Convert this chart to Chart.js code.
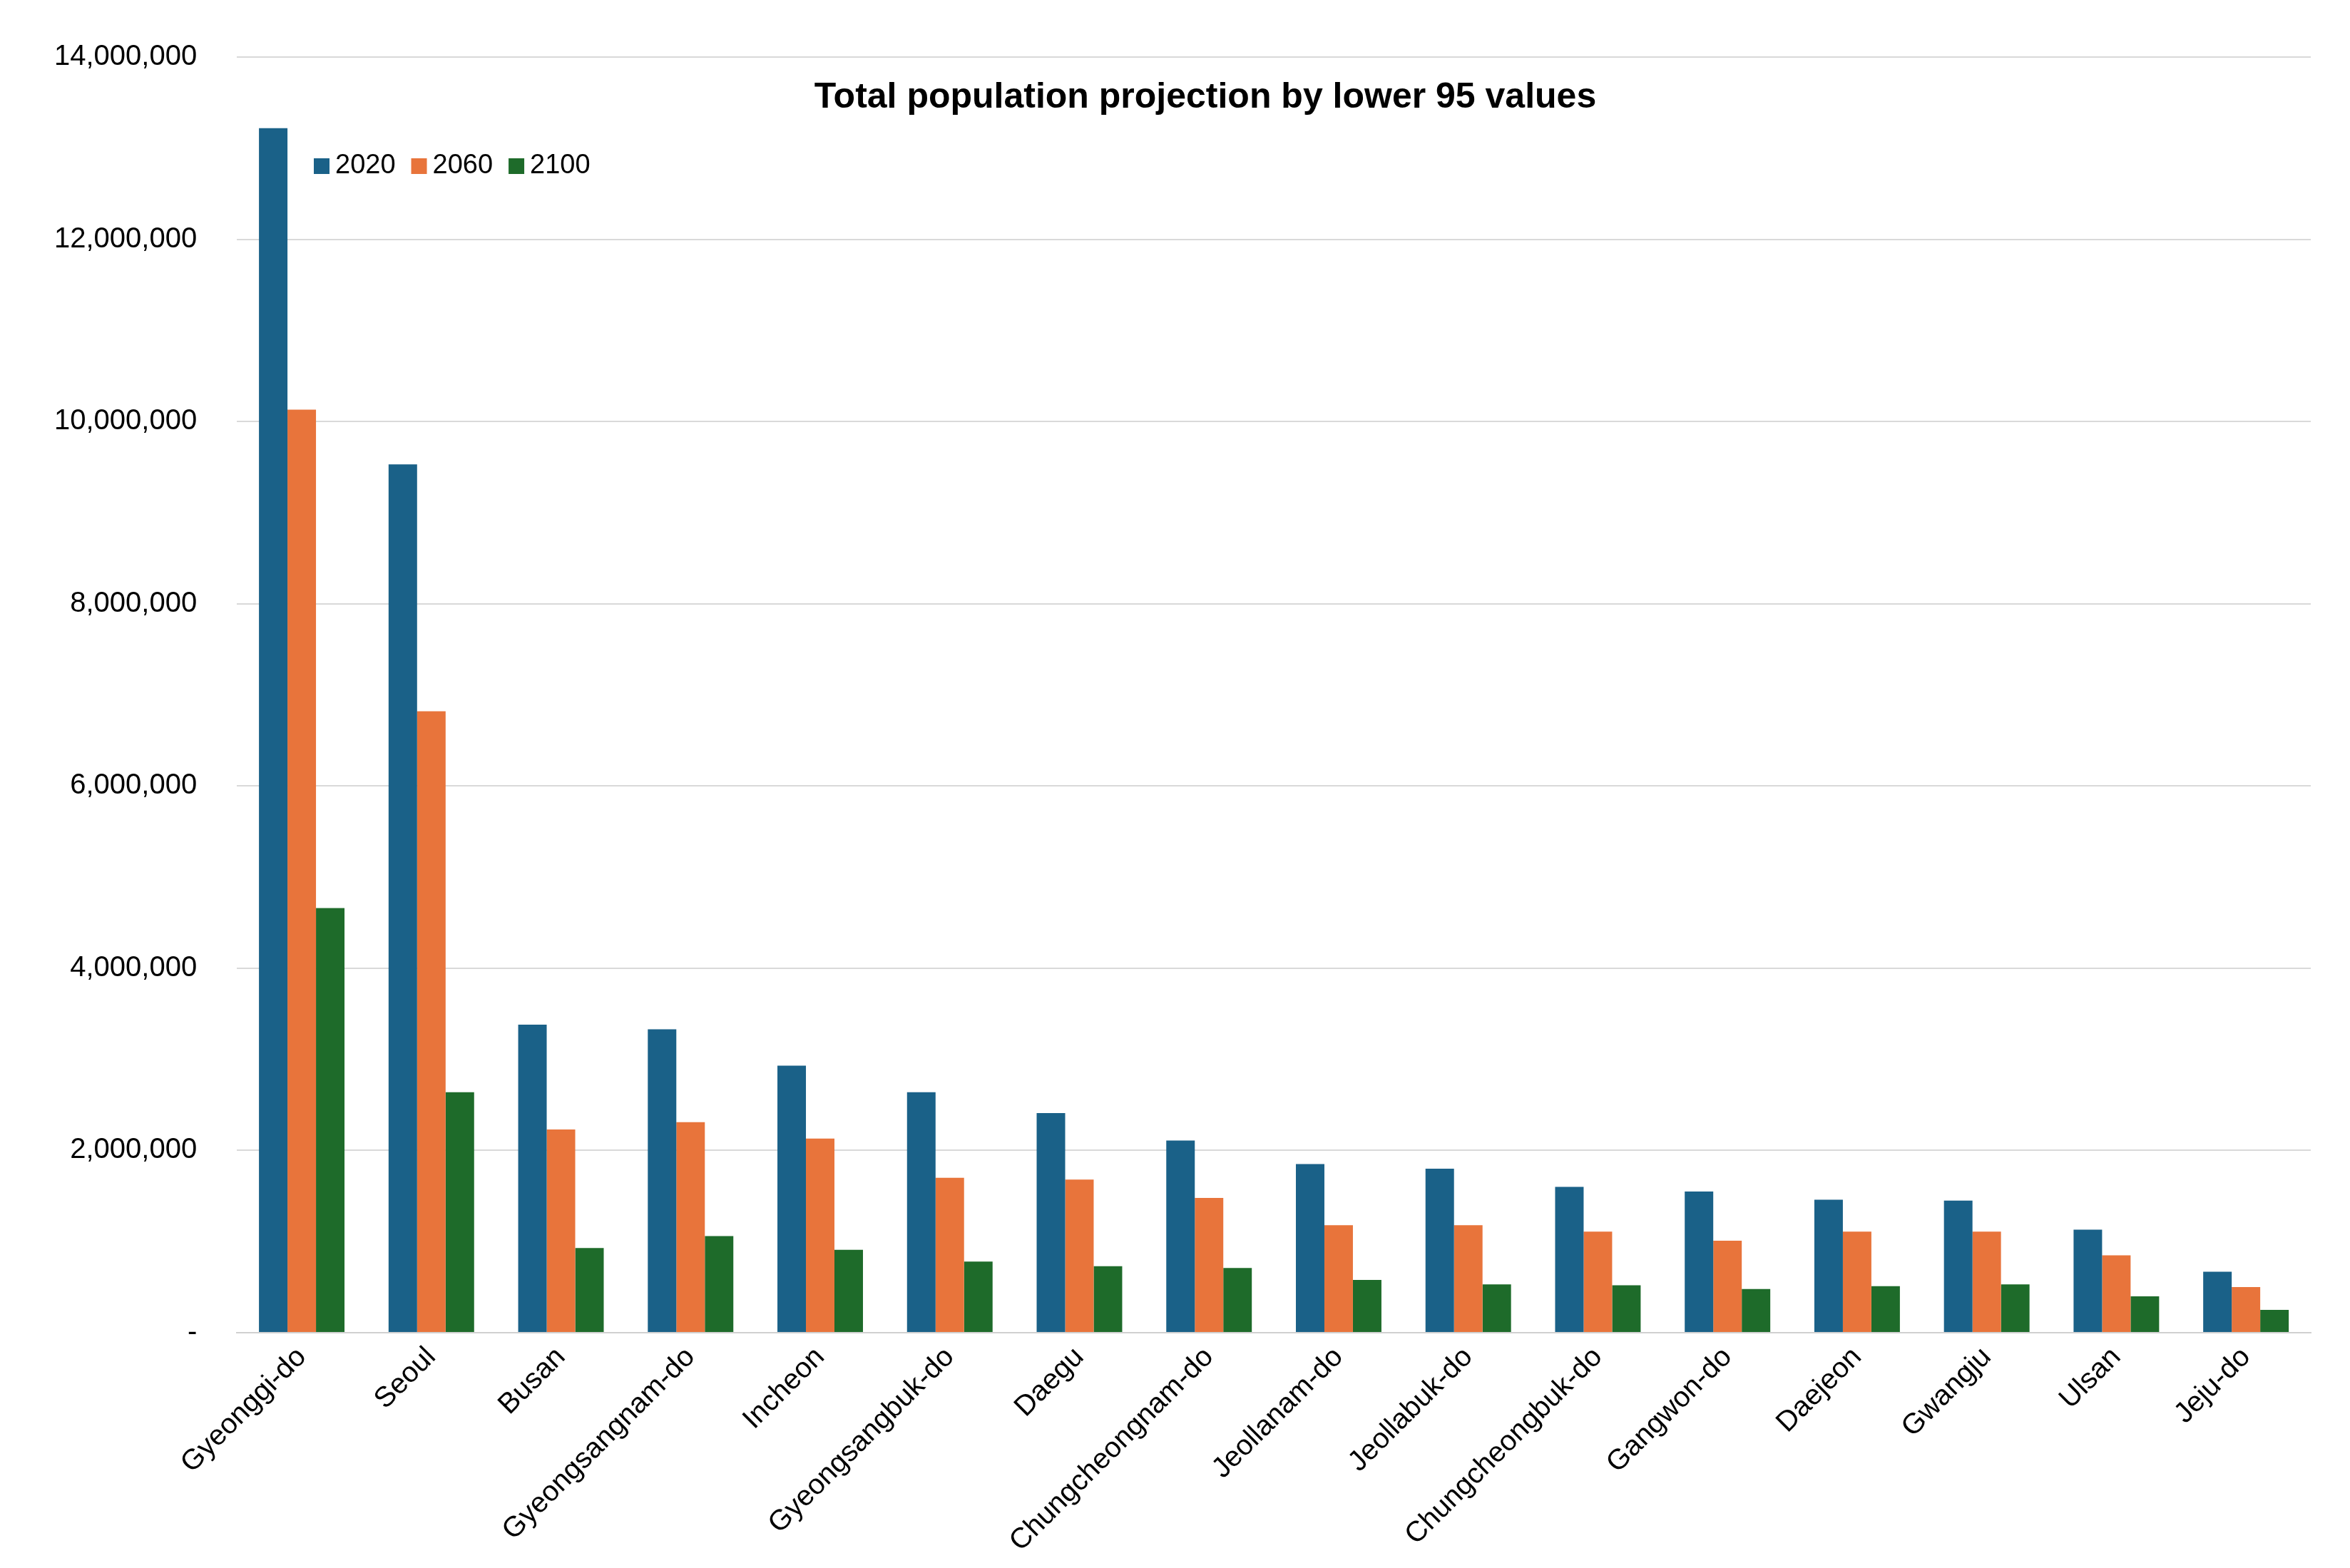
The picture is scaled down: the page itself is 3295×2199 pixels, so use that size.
<!DOCTYPE html>
<html><head><meta charset="utf-8">
<script src="https://cdn.jsdelivr.net/npm/chart.js@4"></script>
<style>html,body{margin:0;padding:0;background:#fff}</style>
</head><body>
<canvas id="c" width="3295" height="2199"></canvas>
<script>
const categories=["Gyeonggi-do","Seoul","Busan","Gyeongsangnam-do","Incheon","Gyeongsangbuk-do","Daegu","Chungcheongnam-do","Jeollanam-do","Jeollabuk-do","Chungcheongbuk-do","Gangwon-do","Daejeon","Gwangju","Ulsan","Jeju-do"];
const pop2020=[13220000,9530000,3380000,3330000,2930000,2640000,2410000,2110000,1850000,1800000,1600000,1550000,1460000,1450000,1130000,670000];
const pop2060=[10130000,6820000,2230000,2310000,2130000,1700000,1680000,1480000,1180000,1180000,1110000,1010000,1110000,1110000,850000,500000];
const pop2100=[4660000,2640000,930000,1060000,910000,780000,730000,710000,580000,530000,520000,480000,510000,530000,400000,250000];
const seriesNames=["2020","2060","2100"];
const colors=["#1a6188","#e8743b","#1e6b2a"];
const FONT="'Liberation Sans', Arial, sans-serif";
const overlay={id:'overlay',afterDraw(ch){
  const c=ch.ctx;
  c.save();
  c.fillStyle='#000';c.font='bold 50px '+FONT;c.textAlign='center';c.textBaseline='middle';
  c.fillText('Total population projection by lower 95 values',1690,137);
  c.font='38px '+FONT;c.textAlign='left';
  let x=440;
  seriesNames.forEach((n,i)=>{c.fillStyle=colors[i];c.fillRect(x,222,22,22);c.fillStyle='#000';c.fillText(n,x+30,233);x+=30+c.measureText(n).width+22;});
  c.restore();}};
new Chart(document.getElementById('c'),{type:'bar',
 data:{labels:categories,datasets:[pop2020,pop2060,pop2100].map((d,i)=>({label:seriesNames[i],data:d,backgroundColor:colors[i]}))},
 options:{responsive:false,devicePixelRatio:1,animation:false,
  layout:{padding:{left:20,right:55,top:30,bottom:10}},
  datasets:{bar:{categoryPercentage:0.66,barPercentage:1}},
  plugins:{legend:{display:false},title:{display:false},tooltip:{enabled:false}},
  scales:{
   x:{grid:{display:false},border:{color:'#d0d0d0',width:2},ticks:{color:'#000',font:{size:40,family:FONT},maxRotation:45,minRotation:45,autoSkip:false}},
   y:{min:0,max:14000000,grid:{color:'#d9d9d9',lineWidth:2,drawTicks:false},border:{display:false},
      ticks:{stepSize:2000000,color:'#000',padding:56,font:{size:40,family:FONT},callback:v=>v===0?'-':v.toLocaleString('en-US')}}
  }},plugins:[overlay]});
</script></body></html>
